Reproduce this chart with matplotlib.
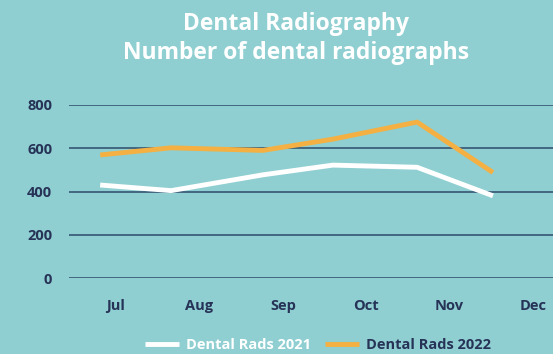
import numpy as np
import matplotlib
matplotlib.use("Agg")
import matplotlib.pyplot as plt

##WWww=--  data: --=wwWW##
months     = ["Jul", "Aug", "Sep", "Oct", "Nov", "Dec"]
# points sit a bit off the month labels in the original
x_points   = [-0.19, 0.66, 1.76, 2.60, 3.61, 4.52]
rads_2021  = [430, 404, 477, 522, 512, 380]
rads_2022  = [569, 602, 590, 642, 721, 488]
y_ticks    = [0, 200, 400, 600, 800]

BG     = "#8fcfd1"
NAVY   = "#263357"
GRID   = "#2e4a6a"
ORANGE = "#f4b042"

plt.rcParams['font.family'] = ["Open Sans", "DejaVu Sans"]

fig = plt.figure(figsize=(5.53, 3.54), dpi=100, facecolor=BG)
ax  = fig.add_axes([69/553, 76/354, 484/553, 173/354], facecolor=BG)

ax.plot(x_points, rads_2021, color="white", lw=3.5, solid_capstyle="butt",
        clip_on=False, label="Dental Rads 2021", zorder=3)
ax.plot(x_points, rads_2022, color=ORANGE, lw=3.5, solid_capstyle="butt",
        clip_on=False, label="Dental Rads 2022", zorder=3)

ax.set_xlim(-0.564, 5.24)
ax.set_ylim(0, 800)
ax.set_yticks(y_ticks)
ax.set_xticks(range(len(months)))
ax.set_xticklabels(months)
ax.grid(True, axis="y", color=GRID, lw=1.1)
ax.set_axisbelow(True)
for s in ax.spines.values():
    s.set_visible(False)
ax.tick_params(axis="both", length=0, labelsize=10.5, labelcolor=NAVY)
ax.tick_params(axis="y", pad=12)
ax.tick_params(axis="x", pad=15)
for lbl in ax.get_xticklabels() + ax.get_yticklabels():
    lbl.set_fontweight("bold")

#---- title (two lines, white):
fig.text(0.536, 0.892, "Dental Radiography\nNumber of dental radiographs",
         ha="center", va="center", color="white", fontsize=16.5,
         fontweight="bold", linespacing=1.3)

leg = fig.legend(loc="center", bbox_to_anchor=(0.575, 0.025), ncol=2,
                 frameon=False, handlelength=2.33,
                 handletextpad=0.48, columnspacing=0.9,
                 prop={"weight": "bold", "size": 10.5})
for txt, c in zip(leg.get_texts(), ["white", NAVY]):
    txt.set_color(c)

fig.savefig("out.png", dpi=100, facecolor=BG)
